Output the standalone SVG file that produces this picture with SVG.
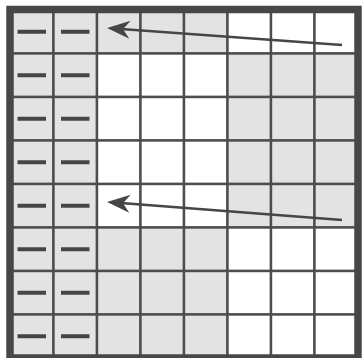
<svg xmlns="http://www.w3.org/2000/svg" width="362" height="358" viewBox="0 0 362 358">
<style>
.g{fill:#e3e3e3;stroke:#4d4d4d;stroke-width:2.4}
.w{fill:#ffffff;stroke:#4d4d4d;stroke-width:2.4}
.d{stroke:#454545;stroke-width:4;stroke-linecap:butt}
.frame{fill:none;stroke:#474747;stroke-width:7.5}
.arr{fill:none;stroke:#464646;stroke-width:2.5}
</style>
<defs>
<marker id="ah" markerUnits="userSpaceOnUse" markerWidth="24" markerHeight="20" viewBox="0 -10 24 20" refX="9" refY="0" orient="auto">
<path d="M23,0 L0,-9 L7,0 L0,9 Z" fill="#464646"/>
</marker>
</defs>
<rect width="362" height="358" fill="#ffffff"/>
<g id="cells">
<g id="r0c0"><rect class="g" x="10" y="10" width="43.5" height="43.5"/><line class="d" x1="17.5" y1="31.75" x2="46" y2="31.75"/></g>
<g id="r0c1"><rect class="g" x="53.5" y="10" width="43.5" height="43.5"/><line class="d" x1="61" y1="31.75" x2="89.5" y2="31.75"/></g>
<g id="r0c2"><rect class="g" x="97" y="10" width="43.5" height="43.5"/></g>
<g id="r0c3"><rect class="g" x="140.5" y="10" width="43.5" height="43.5"/></g>
<g id="r0c4"><rect class="g" x="184" y="10" width="43.5" height="43.5"/></g>
<g id="r0c5"><rect class="w" x="227.5" y="10" width="43.5" height="43.5"/></g>
<g id="r0c6"><rect class="w" x="271" y="10" width="43.5" height="43.5"/></g>
<g id="r0c7"><rect class="w" x="314.5" y="10" width="43.5" height="43.5"/></g>

<g id="r1c0"><rect class="g" x="10" y="53.5" width="43.5" height="43.5"/><line class="d" x1="17.5" y1="75.25" x2="46" y2="75.25"/></g>
<g id="r1c1"><rect class="g" x="53.5" y="53.5" width="43.5" height="43.5"/><line class="d" x1="61" y1="75.25" x2="89.5" y2="75.25"/></g>
<g id="r1c2"><rect class="w" x="97" y="53.5" width="43.5" height="43.5"/></g>
<g id="r1c3"><rect class="w" x="140.5" y="53.5" width="43.5" height="43.5"/></g>
<g id="r1c4"><rect class="w" x="184" y="53.5" width="43.5" height="43.5"/></g>
<g id="r1c5"><rect class="g" x="227.5" y="53.5" width="43.5" height="43.5"/></g>
<g id="r1c6"><rect class="g" x="271" y="53.5" width="43.5" height="43.5"/></g>
<g id="r1c7"><rect class="g" x="314.5" y="53.5" width="43.5" height="43.5"/></g>

<g id="r2c0"><rect class="g" x="10" y="97" width="43.5" height="43.5"/><line class="d" x1="17.5" y1="118.75" x2="46" y2="118.75"/></g>
<g id="r2c1"><rect class="g" x="53.5" y="97" width="43.5" height="43.5"/><line class="d" x1="61" y1="118.75" x2="89.5" y2="118.75"/></g>
<g id="r2c2"><rect class="w" x="97" y="97" width="43.5" height="43.5"/></g>
<g id="r2c3"><rect class="w" x="140.5" y="97" width="43.5" height="43.5"/></g>
<g id="r2c4"><rect class="w" x="184" y="97" width="43.5" height="43.5"/></g>
<g id="r2c5"><rect class="g" x="227.5" y="97" width="43.5" height="43.5"/></g>
<g id="r2c6"><rect class="g" x="271" y="97" width="43.5" height="43.5"/></g>
<g id="r2c7"><rect class="g" x="314.5" y="97" width="43.5" height="43.5"/></g>

<g id="r3c0"><rect class="g" x="10" y="140.5" width="43.5" height="43.5"/><line class="d" x1="17.5" y1="162.25" x2="46" y2="162.25"/></g>
<g id="r3c1"><rect class="g" x="53.5" y="140.5" width="43.5" height="43.5"/><line class="d" x1="61" y1="162.25" x2="89.5" y2="162.25"/></g>
<g id="r3c2"><rect class="w" x="97" y="140.5" width="43.5" height="43.5"/></g>
<g id="r3c3"><rect class="w" x="140.5" y="140.5" width="43.5" height="43.5"/></g>
<g id="r3c4"><rect class="w" x="184" y="140.5" width="43.5" height="43.5"/></g>
<g id="r3c5"><rect class="g" x="227.5" y="140.5" width="43.5" height="43.5"/></g>
<g id="r3c6"><rect class="g" x="271" y="140.5" width="43.5" height="43.5"/></g>
<g id="r3c7"><rect class="g" x="314.5" y="140.5" width="43.5" height="43.5"/></g>

<g id="r4c0"><rect class="g" x="10" y="184" width="43.5" height="43.5"/><line class="d" x1="17.5" y1="205.75" x2="46" y2="205.75"/></g>
<g id="r4c1"><rect class="g" x="53.5" y="184" width="43.5" height="43.5"/><line class="d" x1="61" y1="205.75" x2="89.5" y2="205.75"/></g>
<g id="r4c2"><rect class="w" x="97" y="184" width="43.5" height="43.5"/></g>
<g id="r4c3"><rect class="w" x="140.5" y="184" width="43.5" height="43.5"/></g>
<g id="r4c4"><rect class="w" x="184" y="184" width="43.5" height="43.5"/></g>
<g id="r4c5"><rect class="g" x="227.5" y="184" width="43.5" height="43.5"/></g>
<g id="r4c6"><rect class="g" x="271" y="184" width="43.5" height="43.5"/></g>
<g id="r4c7"><rect class="g" x="314.5" y="184" width="43.5" height="43.5"/></g>

<g id="r5c0"><rect class="g" x="10" y="227.5" width="43.5" height="43.5"/><line class="d" x1="17.5" y1="249.25" x2="46" y2="249.25"/></g>
<g id="r5c1"><rect class="g" x="53.5" y="227.5" width="43.5" height="43.5"/><line class="d" x1="61" y1="249.25" x2="89.5" y2="249.25"/></g>
<g id="r5c2"><rect class="g" x="97" y="227.5" width="43.5" height="43.5"/></g>
<g id="r5c3"><rect class="g" x="140.5" y="227.5" width="43.5" height="43.5"/></g>
<g id="r5c4"><rect class="g" x="184" y="227.5" width="43.5" height="43.5"/></g>
<g id="r5c5"><rect class="w" x="227.5" y="227.5" width="43.5" height="43.5"/></g>
<g id="r5c6"><rect class="w" x="271" y="227.5" width="43.5" height="43.5"/></g>
<g id="r5c7"><rect class="w" x="314.5" y="227.5" width="43.5" height="43.5"/></g>

<g id="r6c0"><rect class="g" x="10" y="271" width="43.5" height="43.5"/><line class="d" x1="17.5" y1="292.75" x2="46" y2="292.75"/></g>
<g id="r6c1"><rect class="g" x="53.5" y="271" width="43.5" height="43.5"/><line class="d" x1="61" y1="292.75" x2="89.5" y2="292.75"/></g>
<g id="r6c2"><rect class="g" x="97" y="271" width="43.5" height="43.5"/></g>
<g id="r6c3"><rect class="g" x="140.5" y="271" width="43.5" height="43.5"/></g>
<g id="r6c4"><rect class="g" x="184" y="271" width="43.5" height="43.5"/></g>
<g id="r6c5"><rect class="w" x="227.5" y="271" width="43.5" height="43.5"/></g>
<g id="r6c6"><rect class="w" x="271" y="271" width="43.5" height="43.5"/></g>
<g id="r6c7"><rect class="w" x="314.5" y="271" width="43.5" height="43.5"/></g>

<g id="r7c0"><rect class="g" x="10" y="314.5" width="43.5" height="43.5"/><line class="d" x1="17.5" y1="336.25" x2="46" y2="336.25"/></g>
<g id="r7c1"><rect class="g" x="53.5" y="314.5" width="43.5" height="43.5"/><line class="d" x1="61" y1="336.25" x2="89.5" y2="336.25"/></g>
<g id="r7c2"><rect class="g" x="97" y="314.5" width="43.5" height="43.5"/></g>
<g id="r7c3"><rect class="g" x="140.5" y="314.5" width="43.5" height="43.5"/></g>
<g id="r7c4"><rect class="g" x="184" y="314.5" width="43.5" height="43.5"/></g>
<g id="r7c5"><rect class="w" x="227.5" y="314.5" width="43.5" height="43.5"/></g>
<g id="r7c6"><rect class="w" x="271" y="314.5" width="43.5" height="43.5"/></g>
<g id="r7c7"><rect class="w" x="314.5" y="314.5" width="43.5" height="43.5"/></g>
</g>
<g id="frame"><rect class="frame" x="10" y="9.5" width="348" height="348.5"/></g>
<g id="connectors">
<line class="arr" x1="342" y1="45" x2="121" y2="29" marker-end="url(#ah)"/>
<line class="arr" x1="342" y1="220" x2="121" y2="203.1" marker-end="url(#ah)"/>
</g>
</svg>
